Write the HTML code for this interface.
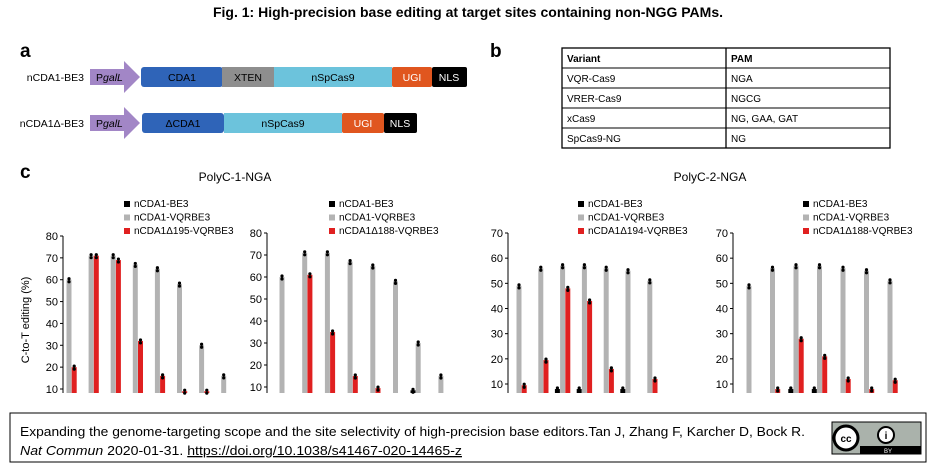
<!DOCTYPE html>
<html><head><meta charset="utf-8"><style>
body{margin:0;width:936px;height:469px;background:#fff;overflow:hidden;font-family:"Liberation Sans",sans-serif;}
svg text{font-family:"Liberation Sans",sans-serif;}
</style></head><body>
<svg id="fig" width="936" height="469" viewBox="0 0 936 469">
<text x="468" y="17" text-anchor="middle" font-size="14" font-weight="bold">Fig. 1: High-precision base editing at target sites containing non-NGG PAMs.</text>
<text x="20" y="57" font-size="19" font-weight="bold">a</text>
<text x="490" y="57" font-size="19" font-weight="bold">b</text>
<text x="20" y="178" font-size="19" font-weight="bold">c</text>
<g font-size="10.5">
<text x="84" y="81" text-anchor="end">nCDA1-BE3</text>
<polygon points="90,69 124,69 124,61 140,77 124,93 124,85 90,85" fill="#a286c6"/>
<text x="96" y="81">P<tspan font-style="italic">galL</tspan></text>
<rect x="141" y="67" width="82" height="20" rx="3" fill="#2f64b8"/>
<text x="182" y="81" text-anchor="middle">CDA1</text>
<rect x="222" y="67" width="52" height="20" fill="#8e8e8e"/>
<text x="248" y="81" text-anchor="middle">XTEN</text>
<rect x="274" y="67" width="118" height="20" fill="#6cc3dc"/>
<text x="333" y="81" text-anchor="middle">nSpCas9</text>
<rect x="392" y="67" width="40" height="20" rx="2" fill="#e0561f"/>
<text x="412" y="81" text-anchor="middle" fill="#fff">UGI</text>
<rect x="432" y="67" width="35" height="20" rx="2" fill="#000"/>
<text x="449" y="81" text-anchor="middle" fill="#fff">NLS</text>
</g>
<g font-size="10.5">
<text x="84" y="127" text-anchor="end">nCDA1Δ-BE3</text>
<polygon points="90,115 124,115 124,107 140,123 124,139 124,131 90,131" fill="#a286c6"/>
<text x="96" y="127">P<tspan font-style="italic">galL</tspan></text>
<rect x="142" y="113" width="82" height="20" rx="3" fill="#2f64b8"/>
<text x="183" y="127" text-anchor="middle">ΔCDA1</text>
<rect x="224" y="113" width="118" height="20" fill="#6cc3dc"/>
<text x="283" y="127" text-anchor="middle">nSpCas9</text>
<rect x="342" y="113" width="42" height="20" rx="2" fill="#e0561f"/>
<text x="363" y="127" text-anchor="middle" fill="#fff">UGI</text>
<rect x="384" y="113" width="33" height="20" rx="2" fill="#000"/>
<text x="400" y="127" text-anchor="middle" fill="#fff">NLS</text>
</g>
<g font-size="10">
<rect x="562" y="48" width="328" height="100" fill="none" stroke="#000" stroke-width="1.3"/>
<line x1="726" y1="48" x2="726" y2="148" stroke="#000" stroke-width="1.3"/>
<line x1="562" y1="68" x2="890" y2="68" stroke="#000"/>
<line x1="562" y1="88" x2="890" y2="88" stroke="#000"/>
<line x1="562" y1="108" x2="890" y2="108" stroke="#000"/>
<line x1="562" y1="128" x2="890" y2="128" stroke="#000"/>
<text x="567" y="62" font-weight="bold">Variant</text><text x="731" y="62" font-weight="bold">PAM</text>
<text x="567" y="82">VQR-Cas9</text><text x="731" y="82">NGA</text>
<text x="567" y="102">VRER-Cas9</text><text x="731" y="102">NGCG</text>
<text x="567" y="122">xCas9</text><text x="731" y="122">NG, GAA, GAT</text>
<text x="567" y="142">SpCas9-NG</text><text x="731" y="142">NG</text>
</g>
<text x="235" y="181" text-anchor="middle" font-size="12">PolyC-1-NGA</text>
<text x="710" y="181" text-anchor="middle" font-size="12">PolyC-2-NGA</text>
<text transform="translate(29,320) rotate(-90)" text-anchor="middle" font-size="11">C-to-T editing (%)</text>
<g id="charts"></g>
<g>
<rect x="10" y="413" width="916" height="49" fill="#fff" stroke="#000" stroke-width="1"/>
<text x="20" y="436" font-size="13" textLength="785" lengthAdjust="spacingAndGlyphs">Expanding the genome-targeting scope and the site selectivity of high-precision base editors.Tan J, Zhang F, Karcher D, Bock R.</text>
<text x="20" y="455" font-size="13" textLength="442" lengthAdjust="spacingAndGlyphs"><tspan font-style="italic">Nat Commun</tspan> 2020-01-31. <tspan text-decoration="underline">https://doi.org/10.1038/s41467-020-14465-z</tspan></text>
<g>
<rect x="832" y="422" width="89" height="32" fill="#aab2ab" stroke="#000"/>
<rect x="860" y="446" width="61" height="8" fill="#000"/>
<circle cx="846" cy="438" r="12" fill="#fff" stroke="#000" stroke-width="3"/>
<text x="846" y="442" text-anchor="middle" font-size="10" font-weight="bold">cc</text>
<circle cx="886" cy="435" r="8" fill="#fff" stroke="#000" stroke-width="2"/>
<text x="886" y="439" text-anchor="middle" font-size="10" font-weight="bold">i</text>
<text x="888" y="453" text-anchor="middle" font-size="6" fill="#fff">BY</text>
</g>
</g>
</svg>
<script>
// Chart data
const c1Black=[0,0,0,0,0,0,0,0];
const c1Gray=[60,71,71,67,65,58,30,16];
const c1Red=[20,71,69,32,16,9,9,0];
const c2Black=[0,0,0,0,0,0,8.5,0];
const c2Gray=[60,71,71,67,65,58,30,15];
const c2Red=[0,61,35,15,9.5,0,0,0];
const c3Black=[0,0,8,8,0,8,0];
const c3Gray=[49,56,57,57,56,55,51];
const c3Red=[9.5,19.5,48,43,16,5,12];
const c4Black=[0,0,8,8,0,0,0];
const c4Gray=[49,56,57,57,56,55,51];
const c4Red=[0,8,28,21,12,8,11.5];
const ticks80=[10,20,30,40,50,60,70,80];
const ticks70=[10,20,30,40,50,60,70];
const legend1=["nCDA1-BE3","nCDA1-VQRBE3","nCDA1Δ195-VQRBE3"];
const legend2=["nCDA1-BE3","nCDA1-VQRBE3","nCDA1Δ188-VQRBE3"];
const legend3=["nCDA1-BE3","nCDA1-VQRBE3","nCDA1Δ194-VQRBE3"];
const legend4=["nCDA1-BE3","nCDA1-VQRBE3","nCDA1Δ188-VQRBE3"];

const NS="http://www.w3.org/2000/svg";
const root=document.getElementById('charts');
function mk(tag,at,parent){const e=document.createElementNS(NS,tag);for(const k in at)e.setAttribute(k,at[k]);parent.appendChild(e);return e;}
const colors=["#000","#b3b3b3","#e02020"];
function drawChart(name,ax,yTop,yTen,vmax,ticks,g0,gStep,series,legend,lx,clipY){
  const g=mk('g',{},root);
  
  
  const y=v=>yTen-(v-10)*(yTen-yTop)/(vmax-10);
  mk('line',{x1:ax,y1:y(vmax),x2:ax,y2:clipY,stroke:'#000','stroke-width':1},g);
  ticks.forEach(t=>{
    mk('line',{x1:ax-3,y1:y(t),x2:ax,y2:y(t),stroke:'#000'},g);
    const tx=mk('text',{x:ax-5,y:y(t)+4,'text-anchor':'end','font-size':11},g);
    tx.textContent=t;
    
    
  });
  series.forEach((arr,si)=>{
    arr.forEach((v,i)=>{
      if(v<=0)return;
      const x=g0+i*gStep+(si-1)*5.2-2.5;
      const top=Math.min(y(v),clipY);
      const r=mk('rect',{x:x,y:top,width:5,height:Math.max(clipY-top,0),fill:colors[si]},g);
      
      
      if(y(v)<clipY){
        mk('circle',{cx:x+2.5,cy:y(v)-1,r:1.6,fill:'#000'},g);
        mk('circle',{cx:x+2.5,cy:y(v)+2,r:1.6,fill:'#000'},g);
      }
    });
  });
  legend.forEach((lab,li)=>{
    const ly=207+li*13.5;
    const s=mk('rect',{x:lx,y:ly-6,width:6,height:6,fill:colors[li]},g);
    
    
    const t=mk('text',{x:lx+10,y:ly,'font-size':10},g);
    t.textContent=lab;
    
    
  });
}
drawChart('chart-polyc1-d195',63,236,389,80,ticks80,69,22.1,[c1Black,c1Gray,c1Red],legend1,124,393);
drawChart('chart-polyc1-d188',267,233,387,80,ticks80,282,22.7,[c2Black,c2Gray,c2Red],legend2,329,393);
drawChart('chart-polyc2-d194',508,233,384,70,ticks70,519,21.8,[c3Black,c3Gray,c3Red],legend3,578,393);
drawChart('chart-polyc2-d188',733,233,384,70,ticks70,749,23.5,[c4Black,c4Gray,c4Red],legend4,803,393);
</script>
</body></html>
